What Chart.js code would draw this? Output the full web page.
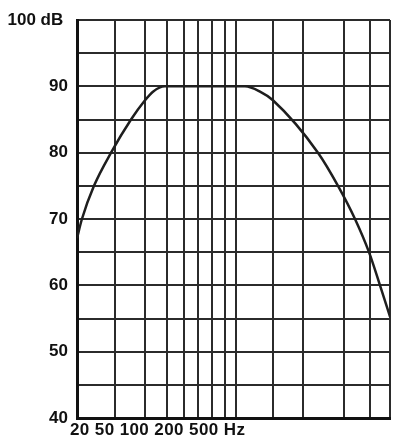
<!DOCTYPE html>
<html>
<head>
<meta charset="utf-8">
<script src="https://cdn.jsdelivr.net/npm/chart.js@4/dist/chart.umd.min.js"></script>
<style>
  html, body { margin: 0; padding: 0; background: #fff; }
  #wrap { width: 395px; height: 440px; }
</style>
</head>
<body>
<div id="wrap"><canvas id="chart" width="395" height="440"></canvas></div>
<script>
// frequency (Hz) / level (dB)
const freqs  = [20, 22.3, 29.1, 42.4, 65.9, 89.7, 107, 139, 815, 1135, 1510, 4080, 6350, 9240, 12580, 16040, 20000];
const levels = [67.1, 70, 75, 80, 85, 87.9, 89.2, 90, 90, 89.2, 87.9, 80, 75, 70, 65, 60, 55.3];

// vertical grid lines (Hz) as drawn in the picture
const xGrid = [20, 46, 90, 146, 212, 289, 394, 524, 668, 1500, 2900, 7200, 13000, 20000];

const yMin = 40, yMax = 100, yStep = 5;
const caption = "20 50 100 200 500 Hz";

const FONT = "'Liberation Sans', Arial, Helvetica, sans-serif";
const ink = "#111";
const gridColor = "#2b2b2b";

// bottom caption under the plot
const captionPlugin = {
  id: "caption",
  afterDraw(chart) {
    const ctx = chart.ctx;
    ctx.save();
    ctx.font = "bold 17px " + FONT;
    ctx.fillStyle = ink;
    ctx.textAlign = "left";
    ctx.textBaseline = "alphabetic";
    ctx.letterSpacing = "0.4px";
    ctx.fillText(caption, chart.chartArea.left - 7, 434.5);
    ctx.restore();
  }
};

new Chart(document.getElementById("chart").getContext("2d"), {
  type: "line",
  data: {
    datasets: [{
      data: freqs.map((f, i) => ({ x: f, y: levels[i] })),
      borderColor: "#1e1e1e",
      borderWidth: 2.5,
      pointRadius: 0,
      fill: false,
      cubicInterpolationMode: "monotone"
    }]
  },
  options: {
    responsive: false,
    animation: false,
    devicePixelRatio: 1,
    layout: { padding: { top: 20, right: 5, bottom: 22, left: 0 } },
    plugins: {
      legend: { display: false },
      tooltip: { enabled: false }
    },
    scales: {
      x: {
        type: "logarithmic",
        min: 20,
        max: 20000,
        afterBuildTicks: (scale) => { scale.ticks = xGrid.map(v => ({ value: v })); },
        afterFit: (scale) => { scale.height = 0; },
        ticks: { display: false },
        grid: { color: gridColor, lineWidth: 2, drawTicks: false },
        border: { display: true, color: ink, width: 3 }
      },
      y: {
        min: yMin,
        max: yMax,
        afterFit: (scale) => { scale.width = 77; },
        ticks: {
          stepSize: yStep,
          padding: 9,
          color: ink,
          font: { family: FONT, size: 17, weight: "bold" },
          // trailing space nudges the top label left, as in the picture
          callback: (v) => v % 10 !== 0 ? "" : (v === yMax ? v + " dB " : String(v))
        },
        grid: { color: gridColor, lineWidth: 2, drawTicks: false },
        border: { display: true, color: ink, width: 3 }
      }
    }
  },
  plugins: [captionPlugin]
});
</script>
</body>
</html>
